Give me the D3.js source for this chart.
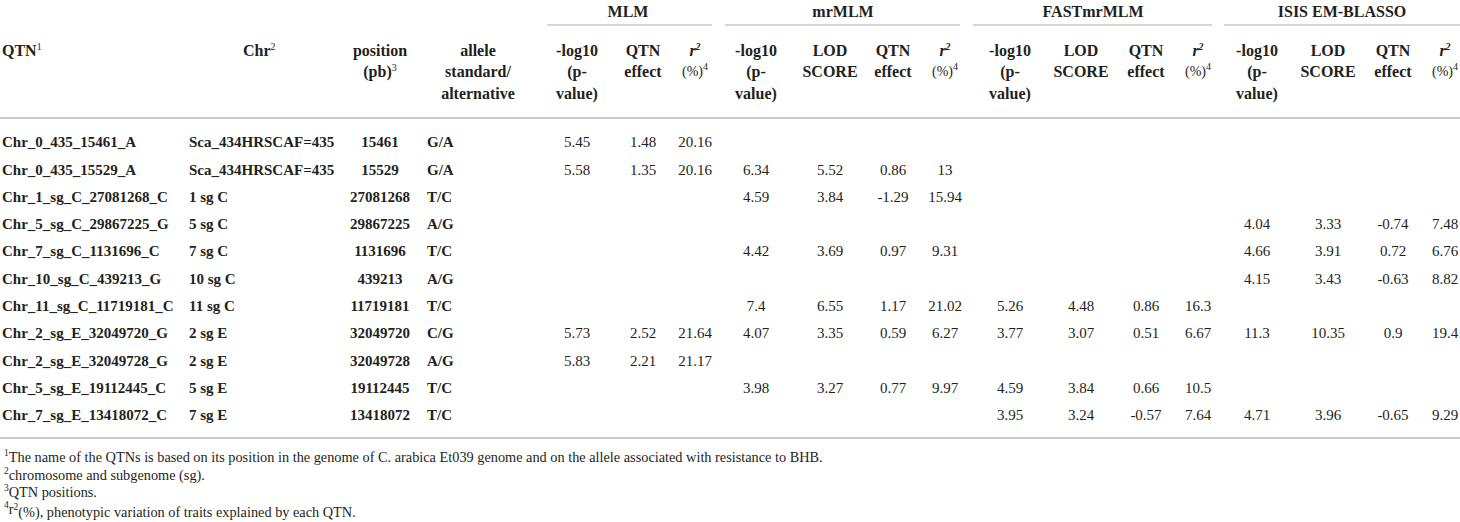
<!DOCTYPE html>
<html>
<head>
<meta charset="utf-8">
<script src="https://cdn.jsdelivr.net/npm/d3@7"></script>
<style>
  html, body { margin: 0; padding: 0; background: #fff; }
  svg { display: block; font-family: "Liberation Serif", "Times New Roman", serif; }
</style>
</head>
<body>
<div id="chart"></div>
<script>
// ---------------- DATA ----------------
const qtnNames = ["Chr_0_435_15461_A","Chr_0_435_15529_A","Chr_1_sg_C_27081268_C","Chr_5_sg_C_29867225_G",
  "Chr_7_sg_C_1131696_C","Chr_10_sg_C_439213_G","Chr_11_sg_C_11719181_C","Chr_2_sg_E_32049720_G",
  "Chr_2_sg_E_32049728_G","Chr_5_sg_E_19112445_C","Chr_7_sg_E_13418072_C"];
const chrNames = ["Sca_434HRSCAF=435","Sca_434HRSCAF=435","1 sg C","5 sg C","7 sg C","10 sg C","11 sg C",
  "2 sg E","2 sg E","5 sg E","7 sg E"];
const positions = ["15461","15529","27081268","29867225","1131696","439213","11719181","32049720","32049728","19112445","13418072"];
const alleles = ["G/A","G/A","T/C","A/G","T/C","A/G","T/C","C/G","A/G","T/C","T/C"];

const methods = ["MLM","mrMLM","FASTmrMLM","ISIS EM-BLASSO"];

const mlmLog10  = [5.45, 5.58, null, null, null, null, null, 5.73, 5.83, null, null];
const mlmEffect = [1.48, 1.35, null, null, null, null, null, 2.52, 2.21, null, null];
const mlmR2     = [20.16, 20.16, null, null, null, null, null, 21.64, 21.17, null, null];

const mrLog10  = [null, 6.34, 4.59, null, 4.42, null, 7.4, 4.07, null, 3.98, null];
const mrLod    = [null, 5.52, 3.84, null, 3.69, null, 6.55, 3.35, null, 3.27, null];
const mrEffect = [null, 0.86, -1.29, null, 0.97, null, 1.17, 0.59, null, 0.77, null];
const mrR2     = [null, 13, 15.94, null, 9.31, null, 21.02, 6.27, null, 9.97, null];

const fastLog10  = [null, null, null, null, null, null, 5.26, 3.77, null, 4.59, 3.95];
const fastLod    = [null, null, null, null, null, null, 4.48, 3.07, null, 3.84, 3.24];
const fastEffect = [null, null, null, null, null, null, 0.86, 0.51, null, 0.66, -0.57];
const fastR2     = [null, null, null, null, null, null, 16.3, 6.67, null, 10.5, 7.64];

const isisLog10  = [null, null, null, 4.04, 4.66, 4.15, null, 11.3, null, null, 4.71];
const isisLod    = [null, null, null, 3.33, 3.91, 3.43, null, 10.35, null, null, 3.96];
const isisEffect = [null, null, null, -0.74, 0.72, -0.63, null, 0.9, null, null, -0.65];
const isisR2     = [null, null, null, 7.48, 6.76, 8.82, null, 19.4, null, null, 9.29];

const footnotes = [
  ["1", "The name of the QTNs is based on its position in the genome of C. arabica Et039 genome and on the allele associated with resistance to BHB."],
  ["2", "chromosome and subgenome (sg)."],
  ["3", "QTN positions."],
  ["4", "r", "2", "(%), phenotypic variation of traits explained by each QTN."]
];

// ---------------- LAYOUT ----------------
const W = 1460, H = 522;
const ink = "#231f20", rule = "#c9c9c9";
const svg = d3.select("#chart").append("svg").attr("width", W).attr("height", H);
svg.append("rect").attr("width", W).attr("height", H).attr("fill", "#fff");

const y = d3.scalePoint().domain(d3.range(qtnNames.length)).range([142, 415]);
const hdrY = [50, 71.5, 93];

// numeric column blocks per method
const blocks = [
  {name: methods[0], cx: 628, line: [547, 712], cols: [
    {kind: "log", x: 577, v: mlmLog10}, {kind: "eff", x: 643, v: mlmEffect}, {kind: "r2", x: 695, v: mlmR2}]},
  {name: methods[1], cx: 843, line: [725, 960], cols: [
    {kind: "log", x: 756, v: mrLog10}, {kind: "lod", x: 830, v: mrLod}, {kind: "eff", x: 893, v: mrEffect}, {kind: "r2", x: 945, v: mrR2}]},
  {name: methods[2], cx: 1093, line: [973, 1212], cols: [
    {kind: "log", x: 1010, v: fastLog10}, {kind: "lod", x: 1081, v: fastLod}, {kind: "eff", x: 1146, v: fastEffect}, {kind: "r2", x: 1198, v: fastR2}]},
  {name: methods[3], cx: 1342, line: [1224, 1460], cols: [
    {kind: "log", x: 1257, v: isisLog10}, {kind: "lod", x: 1328, v: isisLod}, {kind: "eff", x: 1393, v: isisEffect}, {kind: "r2", x: 1445, v: isisR2}]}
];

const HF = 16, DF = 15, FF = 14.3;

function txt(g, x, yy, s, opts = {}) {
  return g.append("text")
    .attr("x", x).attr("y", yy).attr("dy", "0.35em")
    .attr("text-anchor", opts.anchor || "start")
    .attr("font-size", opts.size || DF)
    .attr("font-weight", opts.bold ? "bold" : "normal")
    .attr("font-style", opts.italic ? "italic" : "normal")
    .attr("fill", ink)
    .text(s);
}
function sup(t, s, size) {
  t.append("tspan").attr("dy", -6).attr("font-size", size || 10).attr("font-weight", "normal").text(s);
  return t;
}

// rules
const rules = svg.append("g").attr("stroke", rule);
rules.append("line").attr("x1", 0).attr("x2", W).attr("y1", 118).attr("y2", 118).attr("stroke-width", 2);
rules.append("line").attr("x1", 0).attr("x2", W).attr("y1", 438).attr("y2", 438).attr("stroke-width", 2);
blocks.forEach(b => rules.append("line").attr("x1", b.line[0]).attr("x2", b.line[1])
  .attr("y1", 25).attr("y2", 25).attr("stroke-width", 1.5));

// headers
const hd = svg.append("g");
sup(txt(hd, 2, hdrY[0], "QTN", {size: HF, bold: true}), "1");
sup(txt(hd, 243, hdrY[0], "Chr", {size: HF, bold: true}), "2");
txt(hd, 380, hdrY[0], "position", {size: HF, bold: true, anchor: "middle"});
sup(txt(hd, 380, hdrY[1], "(pb)", {size: HF, bold: true, anchor: "middle"}), "3");
["allele", "standard/", "alternative"].forEach((s, i) => txt(hd, 478, hdrY[i], s, {size: HF, bold: true, anchor: "middle"}));

const headLines = {
  log: ["-log10", "(p-", "value)"],
  lod: ["LOD", "SCORE"],
  eff: ["QTN", "effect"]
};
blocks.forEach(b => {
  txt(hd, b.cx, 11, b.name, {size: HF, bold: true, anchor: "middle"});
  b.cols.forEach(c => {
    if (c.kind === "r2") {
      const t = txt(hd, c.x, hdrY[0], "r", {size: HF, bold: true, italic: true, anchor: "middle"});
      t.append("tspan").attr("dy", -6).attr("font-size", 10).text("2");
      const t2 = txt(hd, c.x, hdrY[1], "(%)", {size: 14, anchor: "middle"});
      sup(t2, "4");
    } else {
      headLines[c.kind].forEach((s, i) => txt(hd, c.x, hdrY[i], s, {size: HF, bold: true, anchor: "middle"}));
    }
  });
});

// body
const body = svg.append("g");
qtnNames.forEach((q, i) => {
  txt(body, 2, y(i), q, {bold: true});
  txt(body, 189, y(i), chrNames[i], {bold: true});
  txt(body, 380, y(i), positions[i], {bold: true, anchor: "middle"});
  txt(body, 427, y(i), alleles[i], {bold: true});
});
blocks.forEach(b => b.cols.forEach(c => {
  body.append("g").selectAll("text")
    .data(c.v.map((v, i) => ({v, i})).filter(d => d.v !== null))
    .join("text")
    .attr("x", c.x).attr("y", d => y(d.i)).attr("dy", "0.35em")
    .attr("text-anchor", "middle").attr("font-size", DF).attr("fill", ink)
    .text(d => String(d.v));
}));

// footnotes
const fn = svg.append("g");
const fnY = [457, 474.5, 492, 509];
footnotes.forEach((f, i) => {
  const t = fn.append("text").attr("x", 4).attr("y", fnY[i]).attr("dy", "0.35em")
    .attr("font-size", FF).attr("fill", ink);
  t.append("tspan").attr("dy", "-0.1em").attr("font-size", 9.5).text(f[0]);
  if (f.length === 2) {
    t.append("tspan").attr("dy", "0.45em").text(f[1]);
  } else {
    t.append("tspan").attr("dy", "0.45em").text(f[1]);
    t.append("tspan").attr("dy", "-0.45em").attr("font-size", 9.5).text(f[2]);
    t.append("tspan").attr("dy", "0.45em").text(f[3]);
  }
});
</script>
</body>
</html>
